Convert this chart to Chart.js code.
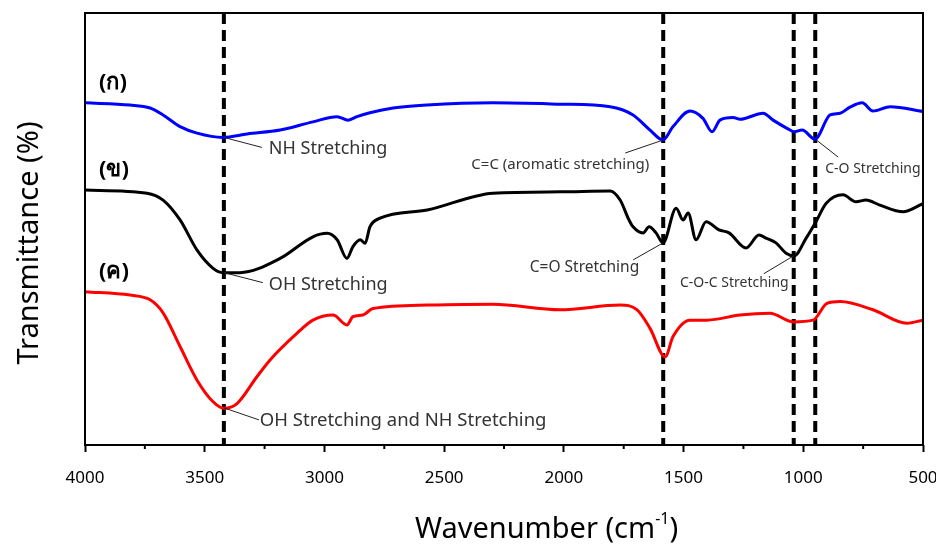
<!DOCTYPE html>
<html>
<head>
<meta charset="utf-8">
<script src="https://cdn.jsdelivr.net/npm/chart.js@4"></script>
<style>
  html, body { margin: 0; padding: 0; background: #fff; }
  #box { width: 936px; height: 544px; }
</style>
</head>
<body>
<div id="box"><canvas id="ftirChart"></canvas></div>
<script>
// wavenumber (cm-1) and transmittance readings for each spectrum
const wnA = [4000, 3812, 3728, 3674, 3603, 3532, 3424, 3323, 3185, 3048, 2947, 2901, 2864, 2810, 2713, 2571, 2296, 2016, 1807, 1711, 1640, 1586, 1544, 1473, 1419, 1381, 1348, 1293, 1264, 1168, 1126, 1068, 1038, 1005, 951, 888, 846, 805, 754, 709, 637, 500];
const tA = [79.2, 78.7, 78.0, 76.4, 73.7, 72.2, 71.2, 72.0, 72.9, 74.8, 76.0, 75.2, 76.0, 76.9, 78.0, 78.7, 79.2, 78.9, 78.3, 76.4, 72.9, 70.6, 73.7, 77.3, 75.6, 72.5, 75.2, 75.8, 75.4, 76.8, 75.2, 73.3, 72.5, 72.9, 70.8, 76.4, 76.8, 78.2, 79.2, 77.3, 78.3, 77.2];

const wnB = [4000, 3741, 3674, 3603, 3532, 3465, 3424, 3353, 3185, 3048, 2989, 2947, 2906, 2881, 2851, 2830, 2810, 2768, 2571, 2296, 2016, 1807, 1765, 1728, 1711, 1669, 1644, 1615, 1586, 1531, 1502, 1481, 1448, 1406, 1352, 1310, 1239, 1185, 1156, 1114, 1072, 1038, 988, 947, 905, 834, 780, 738, 683, 583, 500];
const tB = [59.0, 58.3, 56.7, 52.1, 45.1, 40.9, 39.9, 39.9, 43.2, 48.2, 49.0, 47.5, 43.2, 45.9, 47.5, 46.7, 50.5, 52.5, 54.4, 58.3, 58.6, 58.8, 56.7, 52.1, 50.5, 49.1, 50.5, 49.1, 46.8, 54.8, 52.1, 53.7, 47.5, 51.7, 49.8, 49.1, 45.6, 48.6, 47.9, 46.8, 44.4, 43.8, 47.9, 51.7, 55.9, 57.9, 56.3, 56.7, 55.6, 54.0, 55.9];

const wnC = [4000, 3812, 3728, 3674, 3603, 3532, 3465, 3420, 3365, 3282, 3227, 3114, 3048, 2964, 2906, 2881, 2839, 2797, 2571, 2296, 2016, 1765, 1694, 1640, 1577, 1544, 1473, 1402, 1264, 1139, 1043, 959, 901, 846, 709, 567, 500];
const tC = [35.5, 34.7, 33.6, 30.6, 22.8, 15.0, 10.0, 8.5, 9.6, 15.8, 19.7, 25.9, 28.9, 30.1, 27.8, 29.7, 30.1, 31.6, 32.4, 32.6, 31.3, 32.4, 31.3, 27.0, 20.4, 25.1, 28.9, 28.9, 30.1, 30.5, 28.5, 28.9, 32.8, 33.2, 31.3, 28.2, 28.9];

const seriesNames = ['(ก)', '(ข)', '(ค)'];
const seriesColors = ['#0000ff', '#000000', '#ff0000'];

// dashed marker lines
const markerWn = [3420, 1585, 1040, 950];

// peak annotations
const noteText = ['NH Stretching', 'OH Stretching', 'OH Stretching and NH Stretching', 'C=C (aromatic stretching)', 'C=O Stretching', 'C-O-C Stretching', 'C-O Stretching'];
const noteWn = [3420, 3420, 3420, 1585, 1585, 1040, 950];
const noteT = [71.2, 39.9, 8.6, 70.6, 46.8, 43.8, 70.8];

const xTicks = { min: 500, max: 4000, step: 500 };

function toPoints(xs, ys) {
  return xs.map((x, i) => ({ x: x, y: ys[i] }));
}

const datasets = [
  { data: toPoints(wnA, tA), borderColor: seriesColors[0] },
  { data: toPoints(wnB, tB), borderColor: seriesColors[1] },
  { data: toPoints(wnC, tC), borderColor: seriesColors[2] }
].map(d => Object.assign(d, { borderWidth: 3, pointRadius: 0, cubicInterpolationMode: 'monotone', fill: false }));

markerWn.forEach(wn => {
  datasets.push({
    data: [{ x: wn, y: 100 }, { x: wn, y: 0 }],
    borderColor: '#000',
    borderWidth: 4,
    borderDash: [11, 6],
    pointRadius: 0,
    fill: false
  });
});

const FONT = '"Noto Sans", "DejaVu Sans", sans-serif';

// leader end (dx, dy) and text anchor (tx, ty), both from the peak point
const noteLayout = [
  { dx: 38, dy: 10, tx: 45, ty: 11, align: 'left', size: 18 },
  { dx: 39, dy: 10, tx: 45, ty: 12, align: 'left', size: 18 },
  { dx: 35, dy: 12, tx: 36, ty: 13, align: 'left', size: 18.5 },
  { dx: -38, dy: 13, tx: -14, ty: 25, align: 'right', size: 15 },
  { dx: -30, dy: 17, tx: -24, ty: 25, align: 'right', size: 15.5 },
  { dx: -30, dy: 18, tx: -5, ty: 27, align: 'right', size: 14 },
  { dx: 23, dy: 18, tx: 10, ty: 30, align: 'left', size: 14 }
];

const decor = {
  id: 'decor',
  afterDraw(chart) {
    const { ctx, chartArea: a, scales: { x, y } } = chart;
    ctx.save();
    // frame
    ctx.strokeStyle = '#000';
    ctx.lineWidth = 2;
    ctx.strokeRect(a.left, a.top, a.right - a.left, a.bottom - a.top);
    // minor ticks
    for (let v = xTicks.min + 250; v < xTicks.max; v += 500) {
      const px = x.getPixelForValue(v);
      ctx.beginPath();
      ctx.moveTo(px, a.bottom);
      ctx.lineTo(px, a.bottom + 4);
      ctx.stroke();
    }
    // series labels
    ctx.fillStyle = '#000';
    ctx.font = 'bold 22px ' + FONT;
    ctx.textBaseline = 'middle';
    ctx.textAlign = 'left';
    [tA[0], tB[0], tC[0]].forEach((t, i) => {
      ctx.fillText(seriesNames[i], a.left + 14, y.getPixelForValue(t) - 20);
    });
    // annotations
    ctx.lineWidth = 1;
    ctx.strokeStyle = '#222';
    noteText.forEach((txt, i) => {
      const L = noteLayout[i];
      const px = x.getPixelForValue(noteWn[i]);
      const py = y.getPixelForValue(noteT[i]);
      ctx.beginPath();
      ctx.moveTo(px, py);
      ctx.lineTo(px + L.dx, py + L.dy);
      ctx.stroke();
      ctx.font = L.size + 'px ' + FONT;
      ctx.fillStyle = '#333';
      ctx.textAlign = L.align;
      ctx.fillText(txt, px + L.tx, py + L.ty);
    });
    // axis titles
    ctx.fillStyle = '#000';
    ctx.font = '29px ' + FONT;
    ctx.textAlign = 'center';
    ctx.save();
    ctx.translate(30, 243);
    ctx.rotate(-Math.PI / 2);
    ctx.fillText('Transmittance (%)', 0, 0);
    ctx.restore();
    ctx.font = '29px ' + FONT;
    ctx.textAlign = 'left';
    const base = 'Wavenumber (cm';
    const wBase = ctx.measureText(base).width;
    const x0 = 415;
    ctx.fillText(base, x0, 530);
    ctx.font = '16px ' + FONT;
    ctx.fillText('-1', x0 + wBase, 519);
    const wSup = ctx.measureText('-1').width;
    ctx.font = '29px ' + FONT;
    ctx.fillText(')', x0 + wBase + wSup, 530);
    ctx.restore();
  }
};

new Chart(document.getElementById('ftirChart'), {
  type: 'line',
  data: { datasets: datasets },
  options: {
    responsive: true,
    maintainAspectRatio: false,
    animation: false,
    layout: { padding: { top: 13, right: 13, left: 0, bottom: 0 } },
    plugins: { legend: { display: false }, tooltip: { enabled: false } },
    scales: {
      x: {
        type: 'linear',
        reverse: true,
        min: xTicks.min,
        max: xTicks.max,
        afterFit: s => { s.height = 99; s.paddingLeft = 0; s.paddingRight = 0; },
        border: { display: false },
        grid: { drawOnChartArea: false, drawTicks: true, tickLength: 7, tickWidth: 2, tickColor: '#000' },
        ticks: {
          stepSize: xTicks.step,
          autoSkip: false,
          maxRotation: 0,
          padding: 16,
          color: '#000',
          font: { family: FONT, size: 17 },
          callback: v => String(v)
        }
      },
      y: {
        min: 0,
        max: 100,
        afterFit: s => { s.width = 85; },
        border: { display: false },
        grid: { display: false },
        ticks: { display: false }
      }
    }
  },
  plugins: [decor]
});
</script>
</body>
</html>
